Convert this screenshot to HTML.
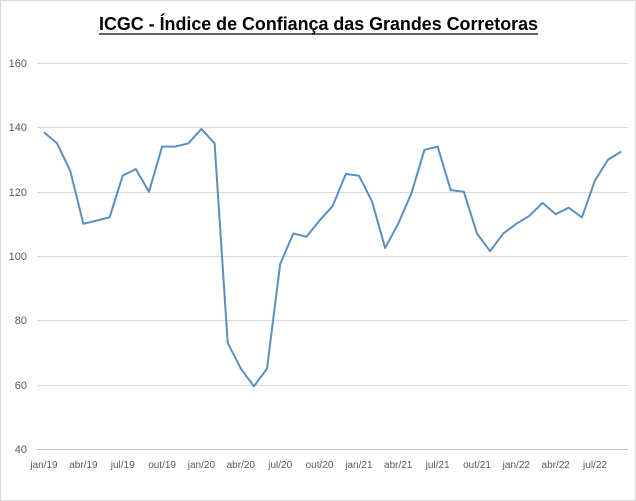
<!DOCTYPE html>
<html><head><meta charset="utf-8"><style>
body{margin:0;background:#fff}
svg{display:block}
text{font-family:"Liberation Sans",Arial,sans-serif}
</style></head><body>
<svg width="636" height="501" viewBox="0 0 636 501">
<rect x="0.5" y="0.5" width="635" height="500" fill="#fff" stroke="#d9d9d9"/>
<text x="99" y="30" font-size="18" font-weight="bold" fill="#000" textLength="439" lengthAdjust="spacingAndGlyphs">ICGC - Índice de Confiança das Grandes Corretoras</text>
<line x1="99" y1="34" x2="538" y2="34" stroke="#000" stroke-width="1.3"/>
<g stroke="#d9d9d9" stroke-width="1">
<line x1="37" x2="628" y1="63.5" y2="63.5"/>
<line x1="37" x2="628" y1="127.5" y2="127.5"/>
<line x1="37" x2="628" y1="192.5" y2="192.5"/>
<line x1="37" x2="628" y1="256.5" y2="256.5"/>
<line x1="37" x2="628" y1="320.5" y2="320.5"/>
<line x1="37" x2="628" y1="385.5" y2="385.5"/>
<line x1="37" x2="628" y1="449.5" y2="449.5" stroke="#bfbfbf"/>
</g>
<g font-size="11" fill="#595959" text-anchor="end">
<text x="27" y="67">160</text><text x="27" y="131">140</text><text x="27" y="196">120</text>
<text x="27" y="260">100</text><text x="27" y="324">80</text><text x="27" y="389">60</text><text x="27" y="453">40</text>
</g>
<g font-size="10" fill="#595959" text-anchor="middle" id="xl"></g>
<polyline id="ln" fill="none" stroke="#5b8fbf" stroke-width="2" stroke-linejoin="round"/>
</svg>
<script>
var v=[138.5,135,126.5,110,111,112,125,127,120,134,134,135,139.5,135,73,65,59.5,65,97.5,107,106,111,115.5,125.5,125,117,102.5,110,119.5,133,134,120.5,120,107,101.5,107,110,112.5,116.5,113,115,112,123.5,130,132.5];
var pts=v.map(function(d,i){return (44+i*13.12).toFixed(1)+","+(449-(d-40)*3.2167).toFixed(1)}).join(" ");
document.getElementById("ln").setAttribute("points",pts);
var lb=["jan/19","abr/19","jul/19","out/19","jan/20","abr/20","jul/20","out/20","jan/21","abr/21","jul/21","out/21","jan/22","abr/22","jul/22"];
var g=document.getElementById("xl"),s="";
lb.forEach(function(t,i){s+='<text x="'+(44+i*3*13.12).toFixed(1)+'" y="468">'+t+'</text>';});
g.innerHTML=s;
</script>
</body></html>
